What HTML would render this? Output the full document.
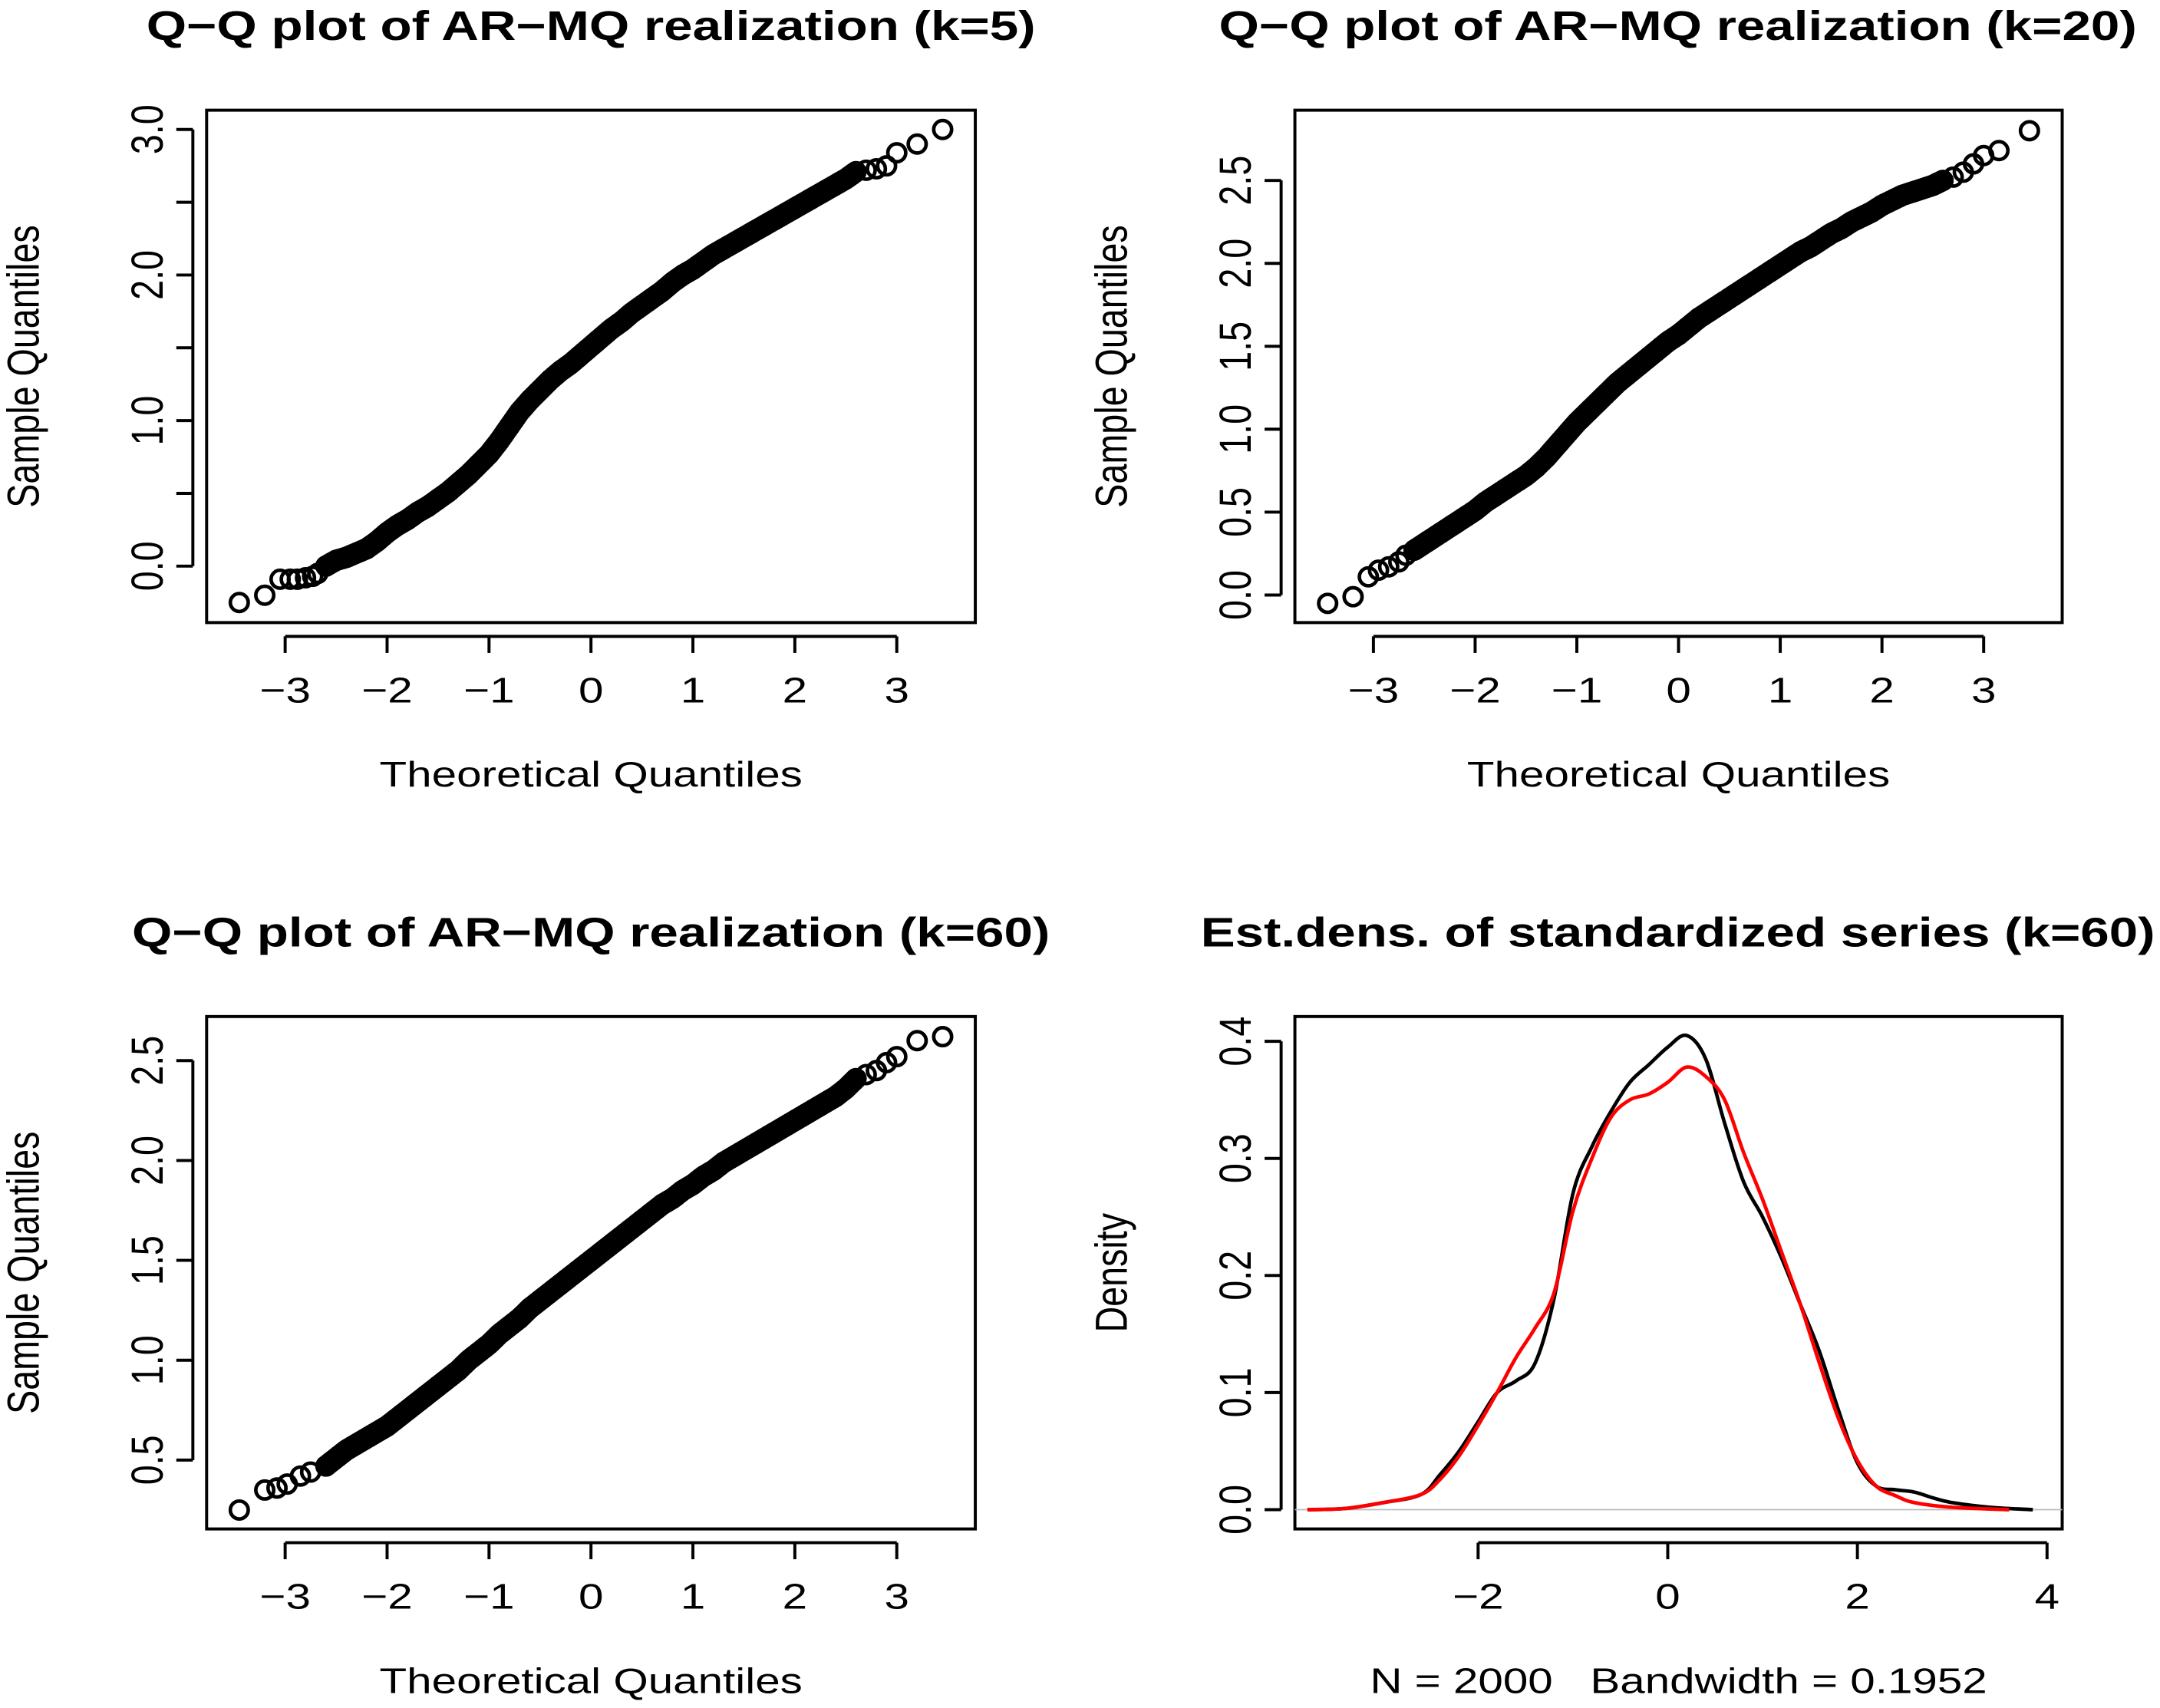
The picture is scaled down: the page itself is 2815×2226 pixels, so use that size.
<!DOCTYPE html>
<html><head><meta charset="utf-8"><style>
html,body{margin:0;padding:0;background:#fff}
svg{display:block}
text{font-family:"Liberation Sans",sans-serif;fill:#000;white-space:pre}
</style></head><body>
<svg id="fig" width="2815" height="2226" viewBox="0 0 1568 1240" preserveAspectRatio="none" xmlns="http://www.w3.org/2000/svg"></svg>
<script>
// ---- data ----
const qqX = [-2.6,-2.5,-2.4,-2.3,-2.2,-2.1,-2.0,-1.9,-1.8,-1.7,-1.6,-1.5,-1.4,-1.3,-1.2,-1.1,-1.0,-0.9,-0.8,-0.7,-0.6,-0.5,-0.4,-0.3,-0.2,-0.1,0,0.1,0.2,0.3,0.4,0.5,0.6,0.7,0.8,0.9,1.0,1.1,1.2,1.3,1.4,1.5,1.6,1.7,1.8,1.9,2.0,2.1,2.2,2.3,2.4,2.5,2.6];
const k5Y = [0.00,0.04,0.06,0.09,0.12,0.17,0.23,0.28,0.32,0.37,0.41,0.46,0.51,0.57,0.63,0.70,0.77,0.86,0.96,1.06,1.14,1.21,1.28,1.34,1.39,1.45,1.51,1.57,1.63,1.68,1.74,1.79,1.84,1.89,1.95,2.00,2.04,2.09,2.14,2.18,2.22,2.26,2.30,2.34,2.38,2.42,2.46,2.50,2.54,2.58,2.62,2.66,2.71];
const k5TailX = [-3.45,-3.2,-3.05,-2.95,-2.88,-2.8,-2.73,-2.68,2.7,2.8,2.9,3.0,3.2,3.45];
const k5TailY = [-0.25,-0.2,-0.09,-0.09,-0.09,-0.08,-0.07,-0.05,2.72,2.73,2.75,2.84,2.9,3.0];
const k20Y = [0.27,0.31,0.35,0.39,0.43,0.47,0.51,0.56,0.60,0.64,0.68,0.72,0.77,0.83,0.90,0.97,1.04,1.10,1.16,1.22,1.28,1.33,1.38,1.43,1.48,1.53,1.57,1.62,1.67,1.71,1.75,1.79,1.83,1.87,1.91,1.95,1.99,2.03,2.07,2.10,2.14,2.18,2.21,2.25,2.28,2.31,2.35,2.38,2.41,2.43,2.45,2.47,2.50];
const k20TailX = [-3.45,-3.2,-3.05,-2.95,-2.85,-2.75,-2.68,2.7,2.8,2.9,3.0,3.15,3.45];
const k20TailY = [-0.05,-0.01,0.11,0.15,0.17,0.2,0.24,2.52,2.55,2.6,2.65,2.68,2.8];
const k60Y = [0.47,0.51,0.55,0.58,0.61,0.64,0.67,0.71,0.75,0.79,0.83,0.87,0.91,0.95,1.00,1.04,1.08,1.13,1.17,1.21,1.26,1.30,1.34,1.38,1.42,1.46,1.50,1.54,1.58,1.62,1.66,1.70,1.74,1.78,1.81,1.85,1.88,1.92,1.95,1.99,2.02,2.05,2.08,2.11,2.14,2.17,2.20,2.23,2.26,2.29,2.32,2.36,2.41];
const k60TailX = [-3.45,-3.2,-3.08,-2.98,-2.85,-2.75,2.7,2.8,2.9,3.0,3.2,3.45];
const k60TailY = [0.25,0.35,0.36,0.38,0.42,0.44,2.43,2.45,2.49,2.52,2.6,2.62];
const densBX = [-3.8,-3.4,-3.0,-2.6,-2.4,-2.2,-2.0,-1.8,-1.6,-1.4,-1.2,-1.0,-0.8,-0.6,-0.4,-0.2,0,0.2,0.4,0.6,0.8,1.0,1.2,1.4,1.6,1.8,2.0,2.2,2.4,2.6,2.8,3.0,3.4,3.85];
const densBY = [0,0.001,0.006,0.013,0.03,0.05,0.075,0.1,0.11,0.125,0.18,0.27,0.31,0.34,0.365,0.38,0.395,0.405,0.385,0.33,0.28,0.25,0.215,0.175,0.135,0.085,0.04,0.02,0.017,0.015,0.01,0.006,0.002,0];
const densRX = [-3.8,-3.4,-3.0,-2.6,-2.4,-2.2,-2.0,-1.8,-1.6,-1.4,-1.2,-1.0,-0.8,-0.6,-0.4,-0.2,0,0.2,0.4,0.6,0.8,1.0,1.2,1.4,1.6,1.8,2.0,2.2,2.4,2.6,3.0,3.6];
const densRY = [0,0.001,0.006,0.013,0.026,0.046,0.072,0.1,0.13,0.155,0.185,0.255,0.3,0.335,0.35,0.355,0.365,0.378,0.37,0.35,0.305,0.265,0.22,0.175,0.125,0.078,0.042,0.02,0.012,0.006,0.002,0];
const qqXTicks = [-3,-2,-1,0,1,2,3];
const k5YTicks = [0,0.5,1,1.5,2,2.5,3];
const k5YLabels = ["0.0","","1.0","","2.0","","3.0"];
const k20YTicks = [0,0.5,1,1.5,2,2.5];
const k20YLabels = ["0.0","0.5","1.0","1.5","2.0","2.5"];
const k60YTicks = [0.5,1,1.5,2,2.5];
const k60YLabels = ["0.5","1.0","1.5","2.0","2.5"];
const densXTicks = [-2,0,2,4];
const densYTicks = [0,0.1,0.2,0.3,0.4];
const densYLabels = ["0.0","0.1","0.2","0.3","0.4"];

const NS="http://www.w3.org/2000/svg";
const svg=document.getElementById('fig');
const SX=1.25;
function mk(tag,attrs,parent){const e=document.createElementNS(NS,tag);for(const k in attrs)e.setAttribute(k,attrs[k]);(parent||svg).appendChild(e);return e;}
function txt(s,x,y,size,parent,opt,rot){const t=mk('text',Object.assign({x:0,y:0,'font-size':size,'text-anchor':'middle',transform:`translate(${x},${y}) scale(${SX},1)`+(rot?' rotate(-90)':'')},opt||{}),parent);t.textContent=s;return t;}

function panel(cfg){
  const g=mk('g',{});
  
  
  const sx=v=>cfg.x0+(v-cfg.xa)*(cfg.x1-cfg.x0)/(cfg.xb-cfg.xa);
  const sy=v=>cfg.y0+(v-cfg.ya)*(cfg.y1-cfg.y0)/(cfg.yb-cfg.ya);
  const box=mk('rect',{x:cfg.L,y:cfg.T,width:cfg.R-cfg.L,height:cfg.B-cfg.T,fill:'none',stroke:'#000','stroke-width':2.2},g);
  
  
  const t=txt(cfg.title,cfg.titleCx,cfg.titleY,30,g,{'font-weight':'bold'});
  
  
  const xa=mk('g',{},g);
  
  
  const xt=cfg.xticks;
  mk('line',{x1:sx(xt[0]),x2:sx(xt[xt.length-1]),y1:cfg.B+10,y2:cfg.B+10,stroke:'#000','stroke-width':2.2},xa);
  xt.forEach(v=>{mk('line',{x1:sx(v),x2:sx(v),y1:cfg.B+10,y2:cfg.B+22,stroke:'#000','stroke-width':2.2},xa);
    const l=txt(v<0?'\u2212'+Math.abs(v):String(v),sx(v),cfg.B+58,26,xa);
    
    });
  const xl=txt(cfg.xlab,(cfg.L+cfg.R)/2,cfg.B+119,26,g);
  
  
  const ya=mk('g',{},g);
  
  
  const yt=cfg.yticks;
  mk('line',{x1:cfg.L-10,x2:cfg.L-10,y1:sy(yt[0]),y2:sy(yt[yt.length-1]),stroke:'#000','stroke-width':2.2},ya);
  yt.forEach((v,i)=>{mk('line',{x1:cfg.L-10,x2:cfg.L-22,y1:sy(v),y2:sy(v),stroke:'#000','stroke-width':2.2},ya);
    if(cfg.ylabels[i]){const l=txt(cfg.ylabels[i],cfg.L-32,sy(v),26,ya,{},true);
    
    }});
  const yl=txt(cfg.ylab,cfg.L-122,(cfg.T+cfg.B)/2,26,g,{},true);
  
  
  return {g,sx,sy};
}

function qq(cfg,mainY,tx,ty){
  const p=panel(cfg);
  const pts=mk('g',{fill:'none',stroke:'#000','stroke-width':2.6},p.g);
  
  
  const draw=(x,y)=>{const c=mk('circle',{cx:p.sx(x),cy:p.sy(y),r:6.5},pts);
    
    };
  for(let i=0;i<qqX.length-1;i++){for(let f=0.2;f<0.99;f+=0.2)draw(qqX[i]+(qqX[i+1]-qqX[i])*f,mainY[i]+(mainY[i+1]-mainY[i])*f);}
  qqX.forEach((x,i)=>draw(x,mainY[i]));
  tx.forEach((x,i)=>draw(x,ty[i]));
}
const qqBase={xa:-3,xb:3,xticks:qqXTicks,xlab:'Theoretical Quantiles',ylab:'Sample Quantiles'};
qq(Object.assign({},qqBase,{name:'qq-panel-k5',title:'Q\u2212Q plot of AR\u2212MQ realization (k=5)',titleCx:429,titleY:29,L:150,R:708,T:80,B:452,x0:207,x1:651,ya:0,yb:3,y0:411,y1:94,yticks:k5YTicks,ylabels:k5YLabels}),k5Y,k5TailX,k5TailY);
qq(Object.assign({},qqBase,{name:'qq-panel-k20',title:'Q\u2212Q plot of AR\u2212MQ realization (k=20)',titleCx:1218,titleY:29,L:940,R:1497,T:80,B:452,x0:997,x1:1440,ya:0,yb:2.5,y0:432,y1:131,yticks:k20YTicks,ylabels:k20YLabels}),k20Y,k20TailX,k20TailY);
qq(Object.assign({},qqBase,{name:'qq-panel-k60',title:'Q\u2212Q plot of AR\u2212MQ realization (k=60)',titleCx:429,titleY:687,L:150,R:708,T:738,B:1110,x0:207,x1:651,ya:0.5,yb:2.5,y0:1060,y1:770,yticks:k60YTicks,ylabels:k60YLabels}),k60Y,k60TailX,k60TailY);

(function(){
  const cfg={name:'density-panel',title:'Est.dens. of standardized series (k=60)',titleCx:1218,titleY:687,L:940,R:1497,T:738,B:1110,xa:-2,xb:4,x0:1073,x1:1486,ya:0,yb:0.4,y0:1096,y1:756,xticks:densXTicks,yticks:densYTicks,ylabels:densYLabels,xlab:'N = 2000   Bandwidth = 0.1952',ylab:'Density'};
  const p=panel(cfg);
  const zl=mk('line',{x1:cfg.L,x2:cfg.R,y1:p.sy(0),y2:p.sy(0),stroke:'#bbb','stroke-width':1},p.g);
  
  
  function path(xs,ys){const P=xs.map((x,i)=>[p.sx(x),p.sy(ys[i])]);let d='M'+P[0][0]+','+P[0][1];
    for(let i=0;i<P.length-1;i++){const a=P[Math.max(0,i-1)],b=P[i],c=P[i+1],e=P[Math.min(P.length-1,i+2)];
      d+=` C${b[0]+(c[0]-a[0])/6},${b[1]+(c[1]-a[1])/6} ${c[0]-(e[0]-b[0])/6},${c[1]-(e[1]-b[1])/6} ${c[0]},${c[1]}`;}return d;}
  const bl=mk('path',{d:path(densBX,densBY),fill:'none',stroke:'#000','stroke-width':2.6},p.g);
  
  
  const rl=mk('path',{d:path(densRX,densRY),fill:'none',stroke:'#f00','stroke-width':2.6},p.g);
  
  
})();
</script>
</body></html>
